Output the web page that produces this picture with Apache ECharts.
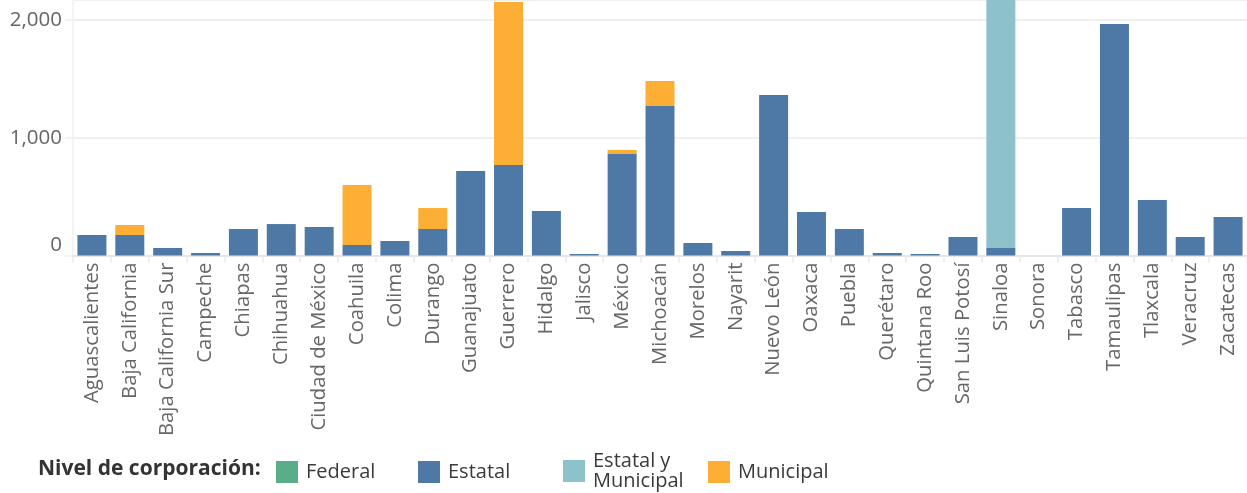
<!DOCTYPE html>
<html>
<head>
<meta charset="utf-8">
<script src="https://cdn.jsdelivr.net/npm/echarts@6/dist/echarts.min.js"></script>
<style>
html,body{margin:0;padding:0;background:#fff;}
#chart{width:1247px;height:493px;}
</style>
</head>
<body>
<div id="chart"></div>
<script>
const categories = ['Aguascalientes','Baja California','Baja California Sur','Campeche','Chiapas','Chihuahua','Ciudad de México','Coahuila','Colima','Durango','Guanajuato','Guerrero','Hidalgo','Jalisco','México','Michoacán','Morelos','Nayarit','Nuevo León','Oaxaca','Puebla','Querétaro','Quintana Roo','San Luis Potosí','Sinaloa','Sonora','Tabasco','Tamaulipas','Tlaxcala','Veracruz','Zacatecas'];
const federal =   [0,0,0,0,0,0,0,0,0,0,0,0,0,0,0,0,0,0,0,0,0,0,0,0,0,0,0,0,0,0,0];
const estatal =   [174,174,64,21,225,267,242,89,123,225,718,769,378,13,862,1270,106,38,1363,369,225,21,13,157,64,0,403,1966,471,157,327];
const estatalMun =[0,0,0,0,0,0,0,0,0,0,0,0,0,0,0,0,0,0,0,0,0,0,0,0,2400,0,0,0,0,0,0];
const municipal = [0,85,0,0,0,0,0,510,0,178,0,1384,0,0,34,212,0,0,0,0,0,0,0,0,0,0,0,0,0,0,0];
const yTicks = [0, 1000, 2000];

const seriesNames = ['Federal','Estatal','Estatal y Municipal','Municipal'];
const seriesData = [federal, estatal, estatalMun, municipal];
const colors = ['#59ae89','#4e79a7','#8dc2cb','#fdae34'];
const legendLefts = [276, 418, 563, 708];
const FONT = "'Open Sans', sans-serif";

const chart = echarts.init(document.getElementById('chart'));
chart.setOption({
  animation: false,
  color: colors,
  grid: { left: 73, right: 0, top: 0, bottom: 237.5, containLabel: false },
  xAxis: {
    type: 'category',
    data: categories,
    axisLine: { show: true, lineStyle: { color: '#e6e6e6', width: 2 } },
    axisTick: { show: true, length: 7, lineStyle: { color: '#ececec', width: 1.5 } },
    axisLabel: { rotate: 90, interval: 0, margin: 7, color: '#666666', fontSize: 20.3, fontFamily: FONT }
  },
  yAxis: {
    type: 'value',
    min: 0, max: 2170, interval: 1000,
    axisLine: { show: true, lineStyle: { color: '#f0f0f0', width: 1.5 } },
    axisTick: { show: true, length: 8, lineStyle: { color: '#f0f0f0', width: 1.5 } },
    splitLine: { show: true, lineStyle: { color: '#f0f0f0', width: 2 } },
    axisLabel: {
      showMaxLabel: false,
      margin: 11,
      color: '#666666', fontSize: 20.5, fontFamily: FONT,
      verticalAlignMinLabel: 'bottom',
      formatter: v => yTicks.includes(v) ? v.toLocaleString('en-US') : ''
    }
  },
  legend: legendLefts.map((l, i) => ({
    data: [seriesNames[i]],
    left: l, top: seriesNames[i] === 'Estatal y Municipal' ? 451 : 461,
    padding: 0,
    icon: 'rect', itemWidth: 22, itemHeight: 22,
    formatter: n => n === 'Estatal y Municipal' ? 'Estatal y\nMunicipal' : n,
    textStyle: { fontSize: 20, fontFamily: FONT, color: '#3a3a3a', lineHeight: 20, padding: [0,0,0,3] },
    selectedMode: false
  })),
  graphic: [{
    type: 'text', left: 38, top: 459,
    style: { text: 'Nivel de corporación:', fontSize: 21, fontWeight: 'bold', fontFamily: FONT, fill: '#333333' }
  }],
  series: seriesNames.map((n, i) => ({
    name: n, type: 'bar', stack: 'total', barWidth: 29,
    data: seriesData[i],
    itemStyle: { color: colors[i] },
    clip: true
  }))
});
</script>
</body>
</html>
